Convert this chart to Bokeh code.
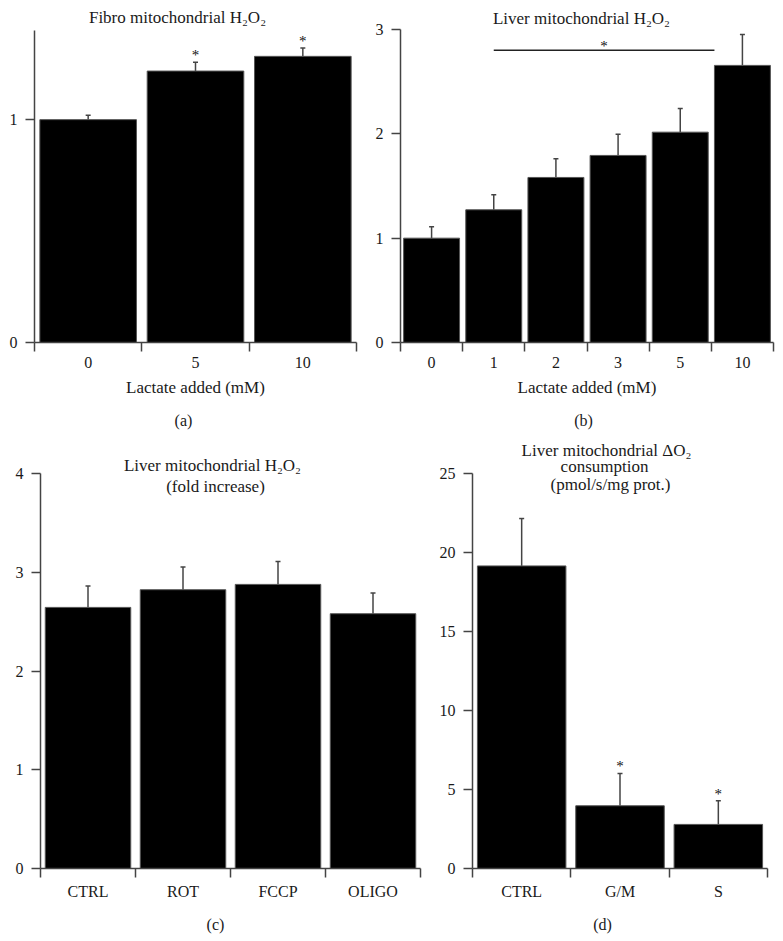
from bokeh.plotting import figure
from bokeh.layouts import column, row
from bokeh.models import (Range1d, FixedTicker, ColumnDataSource, Whisker, TeeHead, Label)
from bokeh.core.properties import value
from bokeh.embed import file_html
from bokeh.resources import INLINE

# ---------------- data ----------------
a_cats = ["0", "5", "10"]
a_vals = [1.0, 1.218, 1.284]
a_err = [0.02, 0.04, 0.038]
a_star = ["", "*", "*"]

b_cats = ["0", "1", "2", "3", "5", "10"]
b_vals = [1.0, 1.272, 1.582, 1.793, 2.016, 2.656]
b_err = [0.11, 0.144, 0.179, 0.204, 0.227, 0.297]
b_sig_from = "1"      # significance bar starts at this category
b_sig_level = 2.80    # height of the significance bar

c_cats = ["CTRL", "ROT", "FCCP", "OLIGO"]
c_vals = [2.644, 2.823, 2.877, 2.58]
c_err = [0.216, 0.23, 0.233, 0.209]

d_cats = ["CTRL", "G/M", "S"]
d_vals = [19.15, 3.97, 2.79]
d_err = [3.0, 2.05, 1.5]
d_star = ["", "*", "*"]

FONT = "Liberation Serif"
AXC = "#444444"
TXT = "#1a1a1a"


def make_panel(cats, vals, errs, ymax, yticks, width, height, borders, top_pad,
               xlabel=None, stars=None):
    n = len(cats)
    bl, br, bb = borders
    frame_h = height - bb
    y_end = ymax * frame_h / (frame_h - top_pad)   # room above the axis for the title
    p = figure(width=width, height=height, x_range=Range1d(0, n), y_range=Range1d(0, y_end),
               output_backend="svg", toolbar_location=None, title=None,
               min_border_left=bl, min_border_right=br, min_border_top=0, min_border_bottom=bb)
    p.outline_line_color = None
    p.xgrid.visible = False
    p.ygrid.visible = False
    p.background_fill_color = "white"
    p.border_fill_color = "white"

    centres = [i + 0.5 for i in range(n)]
    src = ColumnDataSource(dict(x=centres, top=vals, upper=[v + e for v, e in zip(vals, errs)],
                                star=stars if stars else [""] * n))
    p.vbar(x="x", top="top", bottom=0, width=0.9, source=src,
           fill_color="black", line_color="#555555", line_width=1)
    w = Whisker(source=src, base="x", upper="upper", lower="top", dimension="height",
                line_color=AXC, line_width=1.5,
                upper_head=TeeHead(size=5, line_color=AXC, line_width=1.5), lower_head=None)
    p.add_layout(w)
    if stars:
        p.text(x="x", y="upper", text="star", source=src, text_align="center",
               text_baseline="alphabetic", y_offset=-7, text_font=value(FONT),
               text_font_size="15px", text_color="#111111")

    # x axis: ticks at category boundaries (minor), labels at centres (major)
    xa = p.xaxis[0]
    xa.ticker = FixedTicker(ticks=centres, minor_ticks=list(range(n + 1)))
    xa.major_label_overrides = {c: lab for c, lab in zip(centres, cats)}
    xa.major_tick_out = 0
    xa.major_tick_in = 0
    xa.minor_tick_out = 9
    xa.minor_tick_in = 0
    xa.minor_tick_line_color = AXC
    xa.minor_tick_line_width = 1.5
    xa.axis_line_color = AXC
    xa.axis_line_width = 1.5
    xa.major_label_standoff = 5
    xa.major_label_text_font = FONT
    xa.major_label_text_font_size = "16px"
    xa.major_label_text_color = TXT
    if xlabel:
        xa.axis_label = xlabel
        xa.axis_label_text_font = FONT
        xa.axis_label_text_font_size = "17px"
        xa.axis_label_text_font_style = "normal"
        xa.axis_label_text_color = TXT
        xa.axis_label_standoff = 7

    ya = p.yaxis[0]
    ya.ticker = FixedTicker(ticks=yticks)
    ya.bounds = (0, ymax)
    ya.major_tick_out = 9
    ya.major_tick_in = 0
    ya.minor_tick_out = 0
    ya.minor_tick_in = 0
    ya.major_tick_line_color = AXC
    ya.major_tick_line_width = 1.5
    ya.axis_line_color = AXC
    ya.axis_line_width = 1.5
    ya.major_label_standoff = 8
    ya.major_label_text_font = FONT
    ya.major_label_text_font_size = "16px"
    ya.major_label_text_color = TXT
    return p


def add_text(p, x, y, text, size="17px"):
    p.add_layout(Label(x=x, y=y, x_units="screen", y_units="screen", text=text,
                       text_align="center", text_baseline="middle",
                       text_font=FONT, text_font_size=size, text_color=TXT))


def caption(width, height, x, y, text):
    p = figure(width=width, height=height, x_range=Range1d(0, 1), y_range=Range1d(0, 1),
               output_backend="svg", toolbar_location=None, title=None,
               x_axis_location=None, y_axis_location=None, min_border=0)
    p.outline_line_color = None
    p.xgrid.visible = False
    p.ygrid.visible = False
    p.grid.grid_line_color = None
    p.background_fill_color = "white"
    p.border_fill_color = "white"
    add_text(p, x, y, text, size="16px")
    return p


# ---------------- panel (a) ----------------
pa = make_panel(a_cats, a_vals, a_err, 1.4, [0, 1], 365, 402, (34, 9, 60), 30,
                xlabel="Lactate added (mM)", stars=a_star)
add_text(pa, 143, 325, "Fibro mitochondrial H₂O₂")

# ---------------- panel (b) ----------------
pb = make_panel(b_cats, b_vals, b_err, 3, [0, 1, 2, 3], 415, 402, (35, 7, 60), 29,
                xlabel="Lactate added (mM)")
i0 = b_cats.index(b_sig_from) + 0.5
i1 = len(b_cats) - 1 + 0.05
pb.segment(x0=[i0], y0=[b_sig_level], x1=[i1], y1=[b_sig_level], line_color="#222222", line_width=1.5)
pb.text(x=[(i0 + i1) / 2], y=[b_sig_level], text=["*"], text_align="center",
        text_baseline="alphabetic", y_offset=-4, text_font=value(FONT),
        text_font_size="15px", text_color="#111111")
add_text(pb, 181, 324, "Liver mitochondrial H₂O₂")

# ---------------- panel (c) ----------------
pc = make_panel(c_cats, c_vals, c_err, 4, [0, 1, 2, 3, 4], 428, 468, (40, 8, 35), 38)
add_text(pc, 172, 403, "Liver mitochondrial H₂O₂")
add_text(pc, 175, 382, "(fold increase)")

# ---------------- panel (d) ----------------
pd_ = make_panel(d_cats, d_vals, d_err, 25, [0, 5, 10, 15, 20, 25], 352, 468, (44, 13, 35), 38,
                 stars=d_star)
add_text(pd_, 134, 418, "Liver mitochondrial ΔO₂")
add_text(pd_, 132, 402, "consumption")
add_text(pd_, 138, 384, "(pmol/s/mg prot.)")

cap_a = caption(365, 33, 183, 15, "(a)")
cap_b = caption(415, 33, 218, 15, "(b)")
cap_c = caption(428, 35, 215, 14, "(c)")
cap_d = caption(352, 35, 174, 14, "(d)")

layout = column(row(pa, pb), row(cap_a, cap_b), row(pc, pd_), row(cap_c, cap_d))
open("out.html", "w").write(file_html(layout, INLINE))
